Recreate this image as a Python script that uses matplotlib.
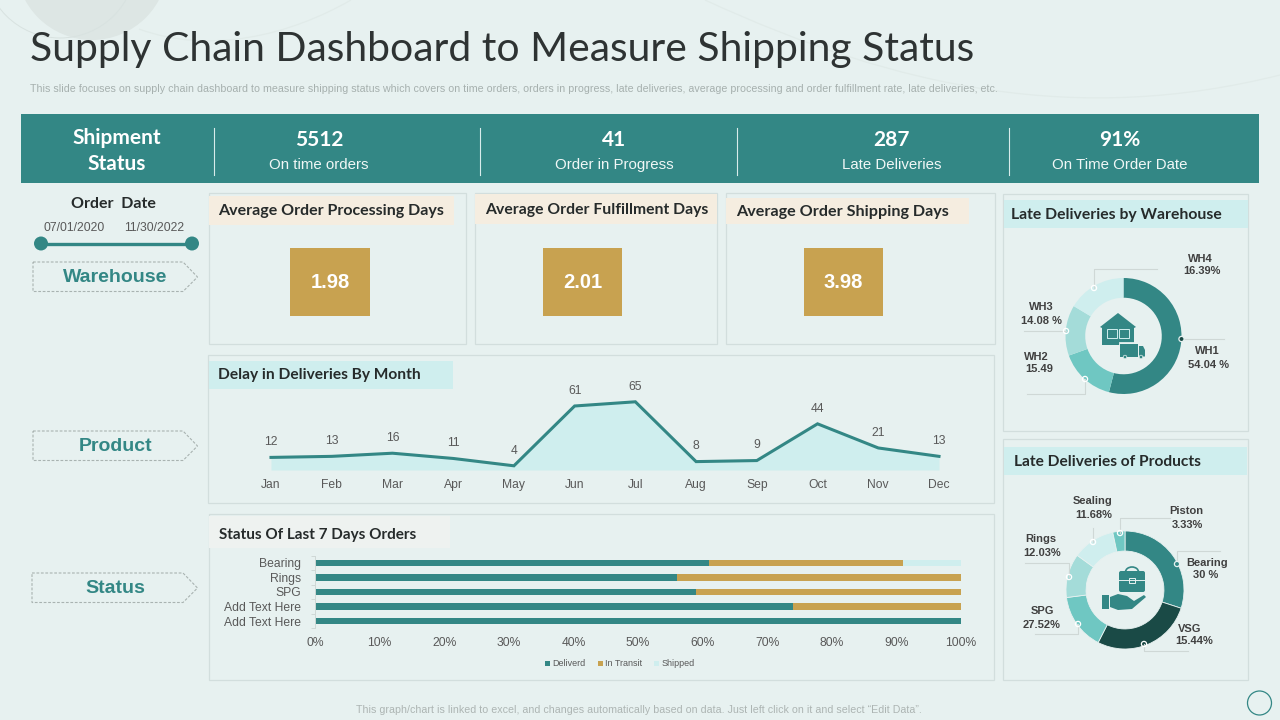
import numpy as np
import matplotlib
matplotlib.use('Agg')
import matplotlib.pyplot as plt
from matplotlib.patches import Rectangle, Polygon, Circle, Arc, PathPatch, FancyBboxPatch
from matplotlib.path import Path

# data
kpi_values = ['5512', '41', '287', '91%']
kpi_labels = ['On time orders', 'Order in Progress', 'Late Deliveries', 'On Time Order Date']
avg_titles = ['Average Order Processing Days', 'Average Order Fulfillment Days', 'Average Order Shipping Days']
avg_values = ['1.98', '2.01', '3.98']

months = ['Jan', 'Feb', 'Mar', 'Apr', 'May', 'Jun', 'Jul', 'Aug', 'Sep', 'Oct', 'Nov', 'Dec']
delays = [12, 13, 16, 11, 4, 61, 65, 8, 9, 44, 21, 13]

status_names = ['Bearing', 'Rings', 'SPG', 'Add Text Here', 'Add Text Here']
delivered = [61, 56, 59, 74, 100]
in_transit = [30, 44, 41, 26, 0]
shipped = [9, 0, 0, 0, 0]

wh_shares = [54.04, 15.49, 14.08, 16.39]
# slices as drawn, the VSG and SPG captions are swapped in the original
product_shares = [30, 27.52, 15.44, 12.03, 11.68, 3.33]

BG = '#e7f1f0'
TEAL = '#338785'
DARK = '#1a4a46'
MID = '#6fc7c2'
SOFT = '#a4dcd9'
PALE = '#cfeeee'
GOLD = '#c8a250'
CREAM = '#f5ede0'
EDGE = '#d2dedd'
INK = '#262b2b'
GREY = '#595959'
HEAD = 'Lato'
BODY = 'Liberation Sans'

fig = plt.figure(figsize=(12.8, 7.2), dpi=100, facecolor=BG)


def px_axes(x0, y0, x1, y1, z=1):
    ax = fig.add_axes([x0 / 1280, 1 - y1 / 720, (x1 - x0) / 1280, (y1 - y0) / 720], zorder=z)
    ax.patch.set_alpha(0)
    return ax


bg = px_axes(0, 0, 1280, 720, 0)
bg.set_xlim(0, 1280)
bg.set_ylim(720, 0)
bg.axis('off')


def txt(x, y, s, size, color=INK, weight='normal', ha='center', family=BODY, ax=bg):
    return ax.text(x, y, s, fontsize=size, color=color, fontweight=weight, ha=ha, va='center', family=family)


def rect(x0, y0, x1, y1, color, edge='none', lw=0):
    bg.add_patch(Rectangle((x0, y0), x1 - x0, y1 - y0, facecolor=color, edgecolor=edge, linewidth=lw))


# faint decoration behind the title
bg.add_patch(Circle((92, -36), 76, facecolor='#dde6e4', edgecolor='none'))
bg.add_patch(Circle((60, -38), 76, facecolor='none', edgecolor='#d8e2e0', linewidth=0.7))
curve = Path([(705, 0), (900, 90), (1080, 125), (1280, 75)], [Path.MOVETO, Path.CURVE4, Path.CURVE4, Path.CURVE4])
bg.add_patch(PathPatch(curve, facecolor='none', edgecolor='#e1ebe9', linewidth=0.9))
curve2 = Path([(139, 29), (210, 55), (290, 35), (351, 0)], [Path.MOVETO, Path.CURVE4, Path.CURVE4, Path.CURVE4])
bg.add_patch(PathPatch(curve2, facecolor='none', edgecolor='#e1ebe9', linewidth=0.9))

# title block
txt(30, 50, 'Supply Chain Dashboard to Measure Shipping Status', 29.45, color='#2e3333', ha='left', family=HEAD)
txt(30, 89, 'This slide focuses on supply chain dashboard to measure shipping status which covers on time orders, '
    'orders in progress, late deliveries, average processing and order fulfillment rate, late deliveries, etc.',
    7.66, color='#a6b0ae', ha='left')
txt(639, 710, 'This graph/chart is linked to excel, and changes automatically based on data. Just left click on it and select \u201cEdit Data\u201d.',
    7.65, color='#adb5b3')

# header band
rect(21, 114, 1259, 183, TEAL)
txt(117, 138, 'Shipment', 15, color='white', weight='bold', family=HEAD)
txt(117, 164, 'Status', 15, color='white', weight='bold', family=HEAD)
for sx in [214, 480, 737, 1009]:
    bg.plot([sx, sx], [128, 175], color='#d8eceb', lw=0.8)
for cx, val, lab in zip([319, 614, 892, 1120], kpi_values, kpi_labels):
    txt(cx, 140, val, 15, color='white', weight='bold', family=HEAD)
    txt(cx, 165, lab, 10.8, color='#f0f7f6')

# left filter column
txt(113, 204, 'Order  Date', 11.5, weight='bold', family=HEAD)
txt(74, 228, '07/01/2020', 8.7, color=GREY)
txt(154, 228, '11/30/2022', 8.7, color=GREY)
bg.plot([41, 192], [243.5, 243.5], color=TEAL, lw=2.4, solid_capstyle='butt')
bg.add_patch(Circle((41, 243.5), 7, facecolor=TEAL, edgecolor='none'))
bg.add_patch(Circle((192, 243.5), 7, facecolor=TEAL, edgecolor='none'))
for name, cx, y0, x0 in [('Warehouse', 115, 262, 33), ('Product', 116, 431, 33), ('Status', 115, 573, 32)]:
    bg.add_patch(Polygon([(x0, y0), (183, y0), (197.5, y0 + 15), (183, y0 + 29.5), (x0, y0 + 29.5)], closed=True,
                         facecolor='none', edgecolor='#a9b3b1', linewidth=0.8, linestyle=(0, (2.5, 1.5))))
    txt(cx, y0 + 15.5, name, 14, color=TEAL, weight='bold')

# cards
cards = [(209, 193, 466, 344), (475, 193, 717, 344), (726, 193, 995, 344), (208, 355, 994, 503),
         (209, 514, 994, 680), (1003, 194, 1248, 431), (1003, 439, 1248, 680)]
for c in cards:
    rect(c[0], c[1], c[2], c[3], 'none', edge=EDGE, lw=0.9)

# three averages
bands = [(209, 196, 454, 225), (475, 194, 717, 224), (726, 198, 969, 224)]
squares = [(290, 370), (543, 622), (804, 883)]
title_x = [218, 485, 736]
title_sizes = [11.55, 11.3, 11.65]
for b, sq, tx, ts, t, v in zip(bands, squares, title_x, title_sizes, avg_titles, avg_values):
    rect(b[0], b[1], b[2], b[3], CREAM)
    txt(tx, (b[1] + b[3]) / 2 + 1, t, ts, weight='bold', ha='left', family=HEAD)
    rect(sq[0], 248, sq[1], 316, GOLD)
    txt((sq[0] + sq[1]) / 2, 282, v, 14.5, color='white', weight='bold')

# other panel headings
rect(209, 361, 453, 389, PALE)
txt(218, 375, 'Delay in Deliveries By Month', 11.2, weight='bold', ha='left', family=HEAD)
rect(209, 516, 450, 548, '#eef2f0')
txt(219, 535, 'Status Of Last 7 Days Orders', 11, weight='bold', ha='left', family=HEAD)
rect(1004, 200, 1248, 228, PALE)
txt(1011, 215, 'Late Deliveries by Warehouse', 11.3, weight='bold', ha='left', family=HEAD)
rect(1004, 447, 1247, 475, PALE)
txt(1014, 462, 'Late Deliveries of Products', 11.2, weight='bold', ha='left', family=HEAD)

# delay line
ax = px_axes(271, 402, 939, 470)
xs = np.arange(len(months))
ax.fill_between(xs, delays, 0, color=PALE, linewidth=0)
ax.plot(xs, delays, color=TEAL, lw=2.2, clip_on=False, solid_joinstyle='miter')
ax.set_xlim(0, 11)
ax.set_ylim(0, 64.8)
ax.set_yticks([])
ax.set_xticks(xs)
ax.set_xticklabels(months, fontsize=8.7, color=GREY, family=BODY)
ax.tick_params(axis='x', length=0, pad=6.5)
for s in ax.spines.values():
    s.set_visible(False)
for i, d in enumerate(delays):
    ax.annotate(str(d), (i, d), xytext=(0, 11), textcoords='offset points', ha='center', va='center',
                fontsize=8.7, color=GREY, family=BODY, annotation_clip=False)

# stacked status bars
ax = px_axes(315, 555.75, 961, 628.25)
ys = np.arange(len(status_names))
d_arr = np.array(delivered)
t_arr = np.array(in_transit)
s_arr = np.array(shipped)
ax.barh(ys, d_arr, height=0.42, color=TEAL, label='Deliverd')
ax.barh(ys, t_arr, left=d_arr, height=0.42, color=GOLD, label='In Transit')
ax.barh(ys, s_arr, left=d_arr + t_arr, height=0.42, color=PALE, label='Shipped')
ax.set_xlim(0, 100)
ax.set_ylim(4.5, -0.5)
ax.set_yticks(ys)
ax.set_yticklabels(status_names, fontsize=8.7, color=GREY, family=BODY)
ax.set_yticks(np.arange(-0.5, 5), minor=True)
ax.tick_params(axis='y', which='major', length=0, pad=10)
ax.tick_params(axis='y', which='minor', length=3, color='#cfd8d6', width=0.7)
ax.set_xticks(np.arange(0, 101, 10))
ax.set_xticklabels([f'{v}%' for v in range(0, 101, 10)], fontsize=8.7, color=GREY, family=BODY)
ax.tick_params(axis='x', length=0, pad=6)
for k in ['top', 'right', 'bottom']:
    ax.spines[k].set_visible(False)
ax.spines['left'].set_color('#cfd8d6')
ax.spines['left'].set_linewidth(0.7)
ax.legend(loc='center', bbox_to_anchor=(620 / 1280, 1 - 664 / 720), bbox_transform=fig.transFigure, ncol=3,
          frameon=False, prop={'family': BODY, 'size': 6.5}, labelcolor=GREY, handlelength=0.55, handleheight=0.55,
          handletextpad=0.3, columnspacing=1.3)

# donuts
wh_ax = px_axes(1065.5, 278, 1181.5, 394)
wh_ax.pie(wh_shares, colors=[TEAL, MID, SOFT, PALE], startangle=90, counterclock=False, radius=1,
          wedgeprops=dict(width=0.34, edgecolor='none'))
wh_ax.set_xlim(-1, 1)
wh_ax.set_ylim(-1, 1)

pr_ax = px_axes(1066, 531, 1184, 649)
pr_ax.pie(product_shares, colors=[TEAL, DARK, MID, SOFT, PALE, MID], startangle=90, counterclock=False, radius=1,
          wedgeprops=dict(width=0.34, edgecolor=BG, linewidth=0.6))
pr_ax.set_xlim(-1, 1)
pr_ax.set_ylim(-1, 1)

# top layer for leaders and icons
top = px_axes(0, 0, 1280, 720, 5)
top.set_xlim(0, 1280)
top.set_ylim(720, 0)
top.axis('off')

leaders = [([1181.5, 1224], [339, 339], DARK), ([1085, 1085, 1027], [379, 394, 394], 'white'),
           ([1066, 1024], [331, 331], 'white'), ([1094, 1094, 1157], [288, 269, 269], 'white'),
           ([1120, 1120, 1170], [533, 518, 518], 'white'), ([1177, 1177, 1220], [564, 551, 551], TEAL),
           ([1144, 1144, 1188], [644, 651, 651], 'white'), ([1078, 1078, 1035], [624, 634, 634], 'white'),
           ([1069, 1069, 1025], [577, 563, 563], 'white'), ([1093, 1093], [542, 528], 'white')]
for lx, ly, dot in leaders:
    top.plot(lx, ly, color='#cfd8d6', lw=0.8, zorder=1)
    top.add_patch(Circle((lx[0], ly[0]), 2.6, facecolor='none' if dot == 'white' else dot,
                         edgecolor=dot if dot == 'white' else BG, linewidth=0.9, zorder=2))

labels = [(1200, 258, 'WH4'), (1202, 271, '16.39%'), (1041, 307, 'WH3'), (1041, 320, '14.08 %'),
          (1036, 356, 'WH2'), (1039, 369, '15.49'), (1207, 351, 'WH1'), (1209, 364, '54.04 %'),
          (1093, 501, 'Sealing'), (1094, 514, '11.68%'), (1186, 511, 'Piston'), (1187, 524, '3.33%'),
          (1041, 539, 'Rings'), (1042, 552, '12.03%'), (1042, 611, 'SPG'), (1042, 624, '27.52%'),
          (1207, 562, 'Bearing'), (1206, 575, '30 %'), (1190, 628, 'VSG'), (1194, 641, '15.44%')]
for lx, ly, s in labels:
    txt(lx, ly + 0.5, s, 8, color='#404040', weight='bold', ax=top)

# warehouse icon
top.add_patch(Polygon([(1100, 327), (1118, 313), (1136, 327), (1134, 328), (1134, 345), (1102, 345), (1102, 328)],
                      closed=True, facecolor=TEAL, edgecolor='none'))
for bx in [1107, 1119]:
    top.add_patch(Rectangle((bx, 329), 10, 9, facecolor='none', edgecolor=PALE, linewidth=0.7))
top.add_patch(Rectangle((1119.5, 343), 19, 13.5, facecolor=BG, edgecolor=BG, linewidth=2))
top.add_patch(Rectangle((1120, 344), 18, 12.5, facecolor=TEAL, edgecolor='none'))
top.add_patch(Polygon([(1139, 346), (1143, 346), (1145, 350), (1145, 356.5), (1139, 356.5)], closed=True, facecolor=TEAL))
for wx in [1125, 1141]:
    top.add_patch(Circle((wx, 357), 1.8, facecolor=TEAL, edgecolor=BG, linewidth=0.5))

# briefcase and hand icon
top.add_patch(Arc((1132, 572), 13, 10, theta1=180, theta2=360, edgecolor=TEAL, linewidth=1.2))
top.add_patch(FancyBboxPatch((1119, 571), 26, 21, boxstyle='round,pad=0,rounding_size=2', facecolor=TEAL, edgecolor='none'))
top.plot([1119, 1145], [580, 580], color=BG, lw=0.7)
top.add_patch(Rectangle((1129, 578), 6, 4.5, facecolor=TEAL, edgecolor=BG, linewidth=0.7))
top.add_patch(Rectangle((1102, 595), 7, 14, facecolor=TEAL, edgecolor='none'))
top.add_patch(Polygon([(1110, 597), (1118, 594), (1127, 596), (1134, 601), (1144, 595), (1146, 597), (1132, 609), (1118, 610), (1110, 607)],
                      closed=True, facecolor=TEAL, edgecolor='none'))

# slide number ring
top.add_patch(Circle((1259.5, 703), 12, facecolor='none', edgecolor=TEAL, linewidth=0.9))

fig.savefig('out.png', dpi=100, facecolor=BG)
